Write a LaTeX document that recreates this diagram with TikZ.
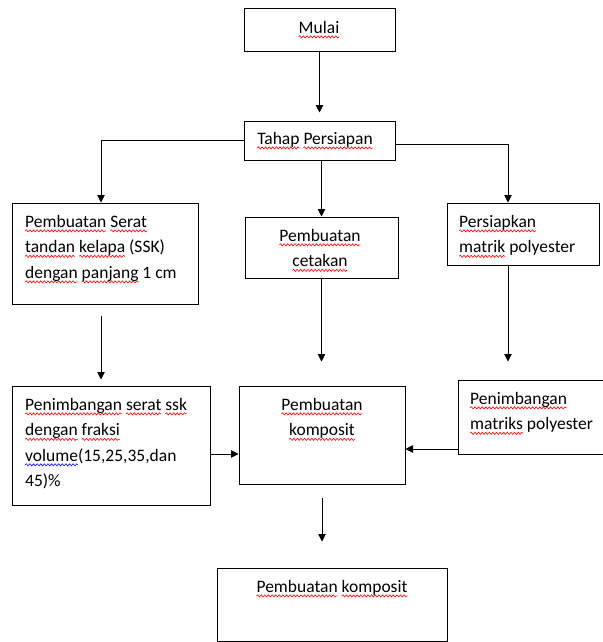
\documentclass[tikz,border=0pt]{standalone}
\usepackage{fontspec}
\setmainfont{Carlito}
\usetikzlibrary{arrows.meta,decorations.pathmorphing}
\newcommand\wavy[2]{\leavevmode\setbox0\hbox{#2}\rlap{\tikz[overlay]\draw[#1, line width=0.6pt, decorate, decoration={snake, amplitude=1.1pt, segment length=3.6pt}] (0pt,-3.8pt) -- (\the\wd0,-3.8pt);}\box0\relax}
\newcommand\redwave[1]{\wavy{red}{#1}}
\newcommand\bluewave[1]{\wavy{blue}{#1}}
\begin{document}
\begin{tikzpicture}[x=1pt, y=-1pt, >={Triangle[length=7.5pt,width=7.5pt]}, line width=0.9pt,
            box/.style={draw, line width=1pt, inner sep=0pt},
            txt/.style={inner sep=0pt, font=\fontsize{17.5}{25.5}\selectfont}]
            \useasboundingbox (0,0) rectangle (602,642);
            \node[box, minimum width=151pt, minimum height=43pt] (mulai) at (319.5,30.5) {};
            \node[txt, anchor=north] (tmulai) at (319,15) {\strut\redwave{Mulai}};
            \node[box, minimum width=151pt, minimum height=39pt] (tahap) at (319.5,140.5) {};
            \node[txt, anchor=north] (ttahap) at (315,126) {\strut\redwave{Tahap} \redwave{Persiapan}};
            \node[box, minimum width=186pt, minimum height=101pt] (serat) at (105,253.5) {};
            \node[txt, anchor=north west, text width=180pt, align=flush left] (tserat) at (25,209) {\strut\redwave{Pembuatan} \redwave{Serat}\\ \redwave{tandan} \redwave{kelapa} (SSK)\\ \redwave{dengan} \redwave{panjang} 1 cm};
            \node[box, minimum width=153pt, minimum height=61pt] (cetakan) at (321.5,247.5) {};
            \node[txt, anchor=north, text width=150pt, align=flush center] (tcetakan) at (320,223) {\strut\redwave{Pembuatan}\\ \redwave{cetakan}};
            \node[box, minimum width=152pt, minimum height=62pt] (matrik) at (523,234) {};
            \node[txt, anchor=north west, text width=150pt, align=flush left] (tmatrik) at (459,209) {\strut\redwave{Persiapkan}\\ \redwave{matrik} polyester};
            \node[box, minimum width=198pt, minimum height=119pt] (timbang) at (111,445.5) {};
            \node[txt, anchor=north west, text width=190pt, align=flush left] (ttimbang) at (25,392) {\strut\redwave{Penimbangan} \redwave{serat} \redwave{ssk}\\ \redwave{dengan} \redwave{fraksi}\\ \bluewave{volume}(15,25,35,dan\\ 45)\%};
            \node[box, minimum width=166pt, minimum height=98pt] (komposit) at (322,435) {};
            \node[txt, anchor=north, text width=160pt, align=flush center] (tkomposit) at (322,392) {\strut\redwave{Pembuatan}\\ \redwave{komposit}};
            \node[box, minimum width=148pt, minimum height=74pt] (timbmatrik) at (532,417) {};
            \node[txt, anchor=north west, text width=150pt, align=flush left] (ttimbmatrik) at (470,386) {\strut\redwave{Penimbangan}\\ \redwave{matriks} polyester};
            \node[box, minimum width=230pt, minimum height=73pt] (hasil) at (332,604.5) {};
            \node[txt, anchor=north] (thasil) at (332,574) {\strut\redwave{Pembuatan} \redwave{komposit}};
            \draw[->, shorten >=8pt] (mulai.south) -- (tahap.north);
            \draw[->] (tahap.west) -| ([xshift=-4pt]serat.north);
            \draw[->] (tahap.south -| cetakan.north) -- (cetakan.north);
            \draw[->] ([yshift=-3.5pt]tahap.east) -| ([xshift=-15pt]matrik.north);
            \draw[->, shorten <=11pt, shorten >=6pt] ([xshift=-4pt]serat.south) -- ([xshift=-4pt]serat.south |- timbang.north);
            \draw[->, shorten >=24pt] (cetakan.south) -- (cetakan.south |- komposit.north);
            \draw[->, shorten >=18pt] ([xshift=-15pt]matrik.south) -- ([xshift=-15pt]matrik.south |- timbmatrik.north);
            \draw[->] ([yshift=-8.5pt]timbang.east) -- ([yshift=-8.5pt]timbang.east -| komposit.west);
            \draw[->] ([yshift=-32pt]timbmatrik.west) -- ([yshift=-32pt]timbmatrik.west -| komposit.east);
            \draw[->, shorten <=13pt, shorten >=26pt] (komposit.south) -- (komposit.south |- hasil.north);
    \end{tikzpicture}
\end{document}
